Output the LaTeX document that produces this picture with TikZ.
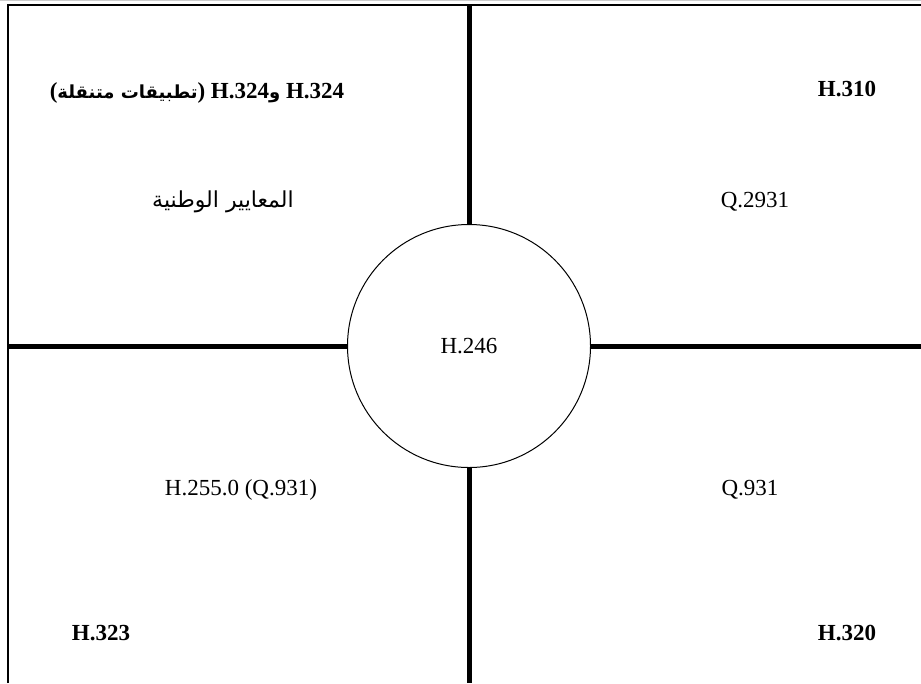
\documentclass[tikz,border=0pt]{standalone}
\usepackage{fontspec}
\setmainfont{Liberation Serif}
\newfontfamily\arabicfont[Script=Arabic]{DejaVu Sans}
\TeXXeTstate=1
\usetikzlibrary{positioning}

\newcommand{\artext}[2][18]{{\arabicfont\fontsize{#1}{#1}\selectfont #2}}
\newcommand{\lat}[1]{\beginL #1\endL{}}

\begin{document}
\begin{tikzpicture}[
    x=1pt, y=-1pt,
    lbl/.style={inner sep=0pt, anchor=base, font=\fontsize{23}{27}\selectfont},
    boldlbl/.style={lbl, font=\fontsize{23}{27}\selectfont\bfseries},
    divider/.style={line width=5pt},
    frame/.style={line width=1.3pt}
  ]
  \useasboundingbox (0,0) rectangle (921,683);
  \draw[black!20, line width=1pt] (0,0.5) -- (921,0.5);

  % outer frame (left and top only)
  \coordinate (bl) at (8,683);
  \coordinate (tl) at (8,5);
  \coordinate (tr) at (921,5);
  \draw[frame] (bl) -- (tl) -- (tr);

  % centre circle
  \node[draw, circle, line width=1pt, minimum size=243pt, inner sep=0pt,
        font=\fontsize{23}{27}\selectfont] (hub) at (469,346) {H.246};

  % dividers
  \coordinate (top) at (469,5);
  \coordinate (bottom) at (469,683);
  \coordinate (left) at (8,346);
  \coordinate (right) at (921,346);
  \draw[divider] (top) -- (hub.north);
  \draw[divider] (hub.south) -- (bottom);
  \draw[divider] (left) -- (hub.west);
  \draw[divider] (hub.east) -- (right);

  % quadrant labels
  \node[boldlbl] (mobile) at (197,98)
    {\beginR\lat{H.324} \artext{\bfseries و}\lat{H.324} )\artext{\bfseries تطبيقات متنقلة}(\endR};
  \node[lbl] (national) at (223,207) {\artext[22]{\beginR المعايير الوطنية\endR}};
  \node[boldlbl] (h310) at (847,96) {H.310};
  \node[lbl] (q2931) at (755,207) {Q.2931};
  \node[lbl] (h255) at (241,495) {H.255.0 (Q.931)};
  \node[lbl] (q931) at (750,495) {Q.931};
  \node[boldlbl] (h323) at (101,640) {H.323};
  \node[boldlbl] (h320) at (847,640) {H.320};
\end{tikzpicture}
\end{document}
